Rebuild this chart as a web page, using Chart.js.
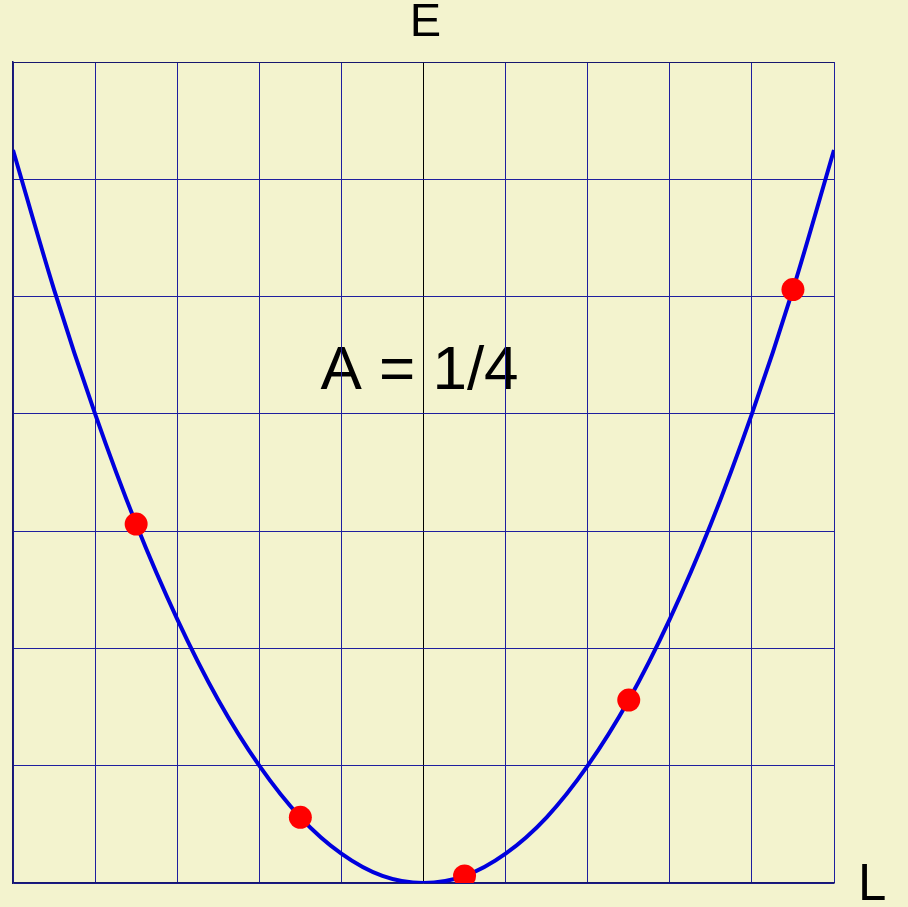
<!DOCTYPE html>
<html>
<head>
<meta charset="utf-8">
<script src="https://cdn.jsdelivr.net/npm/chart.js@4"></script>
<style>
  html, body { margin: 0; padding: 0; background: #F3F3CE; }
  canvas { display: block; }
</style>
</head>
<body>
<canvas id="chart" width="908" height="907"></canvas>
<script>
// curve E(L)
const curveL = [-5, -4.5, -4, -3.5, -3, -2.5, -2, -1.5, -1, -0.5, 0, 0.5, 1, 1.5, 2, 2.5, 3, 3.5, 4, 4.5, 5];
const curveE = [6.25, 5.06, 4.0, 3.06, 2.25, 1.56, 1.0, 0.56, 0.25, 0.06, 0, 0.06, 0.25, 0.56, 1.0, 1.56, 2.25, 3.06, 4.0, 5.06, 6.25];
// red dots
const dotL = [-3.5, -1.5, 0.5, 2.5, 4.5];
const dotE = [3.06, 0.56, 0.06, 1.56, 5.06];

const xTicks = [-5, -4, -3, -2, -1, 0, 1, 2, 3, 4, 5];
const yTicks = [0, 1, 2, 3, 4, 5, 6, 7];

const labelText = "A = 1/4";
const xName = "L";
const yName = "E";

const gridBlue = "#1E1E9E";
const frame = "#16166E";

// texts go under the grid, like in the picture
const textPlugin = {
  id: "texts",
  beforeDraw(chart) {
    const ctx = chart.ctx;
    const a = chart.chartArea;
    const mid = chart.scales.x.getPixelForValue(0);
    ctx.save();
    ctx.fillStyle = "#000";
    ctx.textAlign = "center";
    ctx.textBaseline = "alphabetic";
    ctx.font = "62px 'Liberation Sans', Arial, sans-serif";
    ctx.fillText(labelText, mid - 4, 389);
    ctx.font = "47px 'Liberation Sans', Arial, sans-serif";
    ctx.fillText(yName, mid + 2, 36);
    ctx.font = "51px 'Liberation Sans', Arial, sans-serif";
    ctx.textAlign = "left";
    ctx.fillText(xName, a.right + 24, 900);
    ctx.restore();
  }
};

new Chart(document.getElementById("chart").getContext("2d"), {
  type: "scatter",
  data: {
    datasets: [
      {
        data: dotL.map((l, i) => ({ x: l, y: dotE[i] })),
        backgroundColor: "#FF0000",
        borderColor: "#FF0000",
        pointRadius: 11.5,
        pointBorderWidth: 0,
        showLine: false,
        order: 0,
      },
      {
        data: curveL.map((l, i) => ({ x: l, y: curveE[i] })),
        borderColor: "#0000DD",
        borderWidth: 4,
        pointRadius: 0,
        showLine: true,
        cubicInterpolationMode: "monotone",
        order: 1,
      },
    ],
  },
  options: {
    responsive: false,
    animation: false,
    layout: { padding: { left: 13, top: 62, right: 74, bottom: 24 } },
    plugins: { legend: { display: false }, tooltip: { enabled: false } },
    scales: {
      x: {
        type: "linear",
        min: xTicks[0],
        max: xTicks[xTicks.length - 1],
        afterBuildTicks: (s) => { s.ticks = xTicks.map((v) => ({ value: v })); },
        ticks: { display: false },
        grid: {
          drawTicks: false,
          lineWidth: 1,
          color: xTicks.map((v) => (v === 0 ? "#000000" : gridBlue)),
        },
        border: { color: frame, width: 1.5 },
      },
      y: {
        type: "linear",
        min: yTicks[0],
        max: yTicks[yTicks.length - 1],
        afterBuildTicks: (s) => { s.ticks = yTicks.map((v) => ({ value: v })); },
        ticks: { display: false },
        grid: {
          drawTicks: false,
          lineWidth: 1,
          color: yTicks.map((v, i) => (i === yTicks.length - 1 ? frame : gridBlue)),
        },
        border: { color: frame, width: 1.5 },
      },
    },
  },
  plugins: [textPlugin],
});
</script>
</body>
</html>
